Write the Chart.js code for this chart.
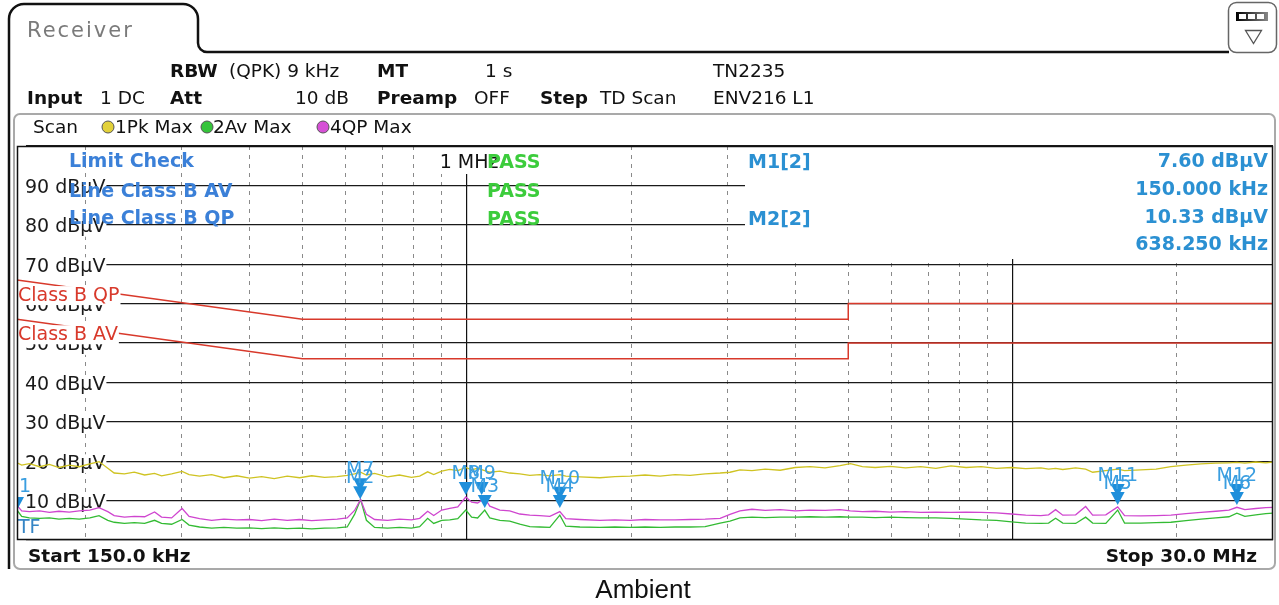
<!DOCTYPE html>
<html><head><meta charset="utf-8">
<script src="https://cdn.jsdelivr.net/npm/chart.js@4.4.1/dist/chart.umd.min.js"></script>
<style>
html,body{margin:0;padding:0;background:#fff;width:1279px;height:605px;overflow:hidden}
canvas{display:block}
</style></head>
<body>
<canvas id="c" width="1279" height="605"></canvas>
<script>
// ---- data (frequency in MHz, level in dBµV) ----
const freqMHz = [0.150,0.153,0.158,0.165,0.172,0.179,0.187,0.195,0.204,0.212,0.220,0.226,0.236,0.246,0.257,0.268,0.276,0.288,0.301,0.310,0.324,0.341,0.359,0.379,0.400,0.421,0.444,0.469,0.494,0.520,0.549,0.579,0.604,0.623,0.639,0.655,0.678,0.716,0.753,0.792,0.820,0.848,0.870,0.900,0.931,0.963,0.996,1.021,1.047,1.079,1.102,1.150,1.199,1.251,1.305,1.361,1.420,1.481,1.519,1.612,1.754,1.868,1.991,2.122,2.261,2.409,2.566,2.734,2.912,3.036,3.166,3.331,3.522,3.751,3.996,4.256,4.534,4.829,5.044,5.307,5.603,5.974,6.367,6.787,7.235,7.71,8.22,8.76,9.34,9.96,10.57,11.27,11.64,11.99,12.36,13.05,13.61,14.02,14.82,15.58,16.04,17.17,18.32,19.50,20.78,22.14,23.58,24.91,25.76,26.64,27.90,29.10,30.0];
const pkMax = [19.6,19.0,19.4,18.6,19.2,18.4,19.0,18.6,19.3,19.9,18.2,17.0,16.8,17.2,16.5,16.9,16.3,16.8,17.4,16.6,16.2,16.6,15.8,16.3,15.7,16.1,15.6,16.2,15.8,16.3,15.9,16.1,16.4,16.8,17.2,16.5,16.9,16.0,16.5,15.9,16.2,17.3,16.6,17.5,17.9,17.6,18.4,17.8,18.2,17.6,17.2,17.5,17.0,16.8,16.4,16.6,16.3,16.6,16.2,16.0,15.8,16.1,16.2,16.5,16.2,16.6,16.4,16.8,17.0,17.2,17.8,17.6,18.0,17.7,18.4,18.6,18.3,18.9,19.4,18.6,18.4,18.7,18.3,18.6,18.2,18.8,18.4,18.6,18.2,18.4,18.1,18.3,18.0,18.2,17.9,18.3,18.0,17.2,17.6,18.0,17.6,17.8,18.0,18.6,19.0,19.3,19.5,19.6,19.7,19.5,19.8,19.6,19.8];
const qpMax = [8.8,7.4,7.2,7.4,7.0,7.3,7.1,7.4,7.6,8.2,7.2,6.2,5.8,6.0,5.9,7.1,5.8,5.6,8.0,6.0,5.4,5.0,5.3,5.1,5.2,4.9,5.3,5.0,5.2,4.9,5.1,5.3,5.6,7.5,10.3,6.5,5.2,5.0,5.3,5.1,5.5,7.3,6.2,7.6,8.0,8.4,10.9,9.6,9.4,10.6,8.6,7.6,7.4,6.6,6.3,6.2,6.0,7.2,5.4,5.2,5.0,5.1,5.0,5.2,5.1,5.1,5.2,5.3,5.5,6.5,7.4,7.8,7.5,7.7,7.4,7.6,7.5,7.7,7.4,7.2,7.3,7.1,7.2,7.0,7.1,7.0,7.1,7.0,6.9,6.6,6.3,6.2,6.4,7.7,6.3,6.4,8.5,6.3,6.4,8.4,6.2,6.1,6.2,6.3,6.7,7.0,7.3,7.6,8.3,7.7,8.0,8.2,8.3];
const avMax = [7.6,6.0,5.6,5.5,5.6,5.3,5.5,5.3,5.6,6.2,5.0,4.5,4.2,4.4,4.2,5.0,4.2,4.0,5.2,3.8,3.3,3.0,3.2,3.0,3.1,2.9,3.1,2.9,3.0,2.8,3.0,3.1,3.3,6.5,10.3,5.0,3.2,3.0,3.2,3.0,3.4,5.5,4.2,5.0,5.1,5.4,7.6,5.8,5.6,7.6,5.6,5.0,4.8,4.0,3.4,3.3,3.2,6.3,3.5,3.3,3.2,3.3,3.2,3.3,3.2,3.3,3.3,3.4,4.3,4.8,5.6,5.8,5.7,5.8,5.8,5.9,5.8,5.9,5.8,5.8,5.7,5.8,5.7,5.6,5.6,5.5,5.3,5.1,5.0,4.6,4.3,4.2,4.3,5.5,4.3,4.2,5.8,4.3,4.2,7.6,4.3,4.3,4.4,4.5,4.9,5.3,5.6,5.9,6.8,6.0,6.4,6.7,6.8];

const qpLimitFreq  = [0.15, 0.5, 5, 5, 30];
const qpLimitLevel = [66, 56, 56, 60, 60];
const avLimitFreq  = [0.15, 0.5, 5, 5, 30];
const avLimitLevel = [56, 46, 46, 50, 50];

const yTickValues = [0,10,20,30,40,50,60,70,80,90,100];
const minorGridFreqs = [0.2,0.3,0.4,0.5,0.6,0.7,0.8,0.9,2,3,4,5,6,7,8,9,20];
const majorGridFreqs = [1,10];

const markerNames  = ['1','M7','M2','M8','M9','M3','M10','M4','M11','M5','M12','M6'];
const markerFreqs  = [0.150,0.638,0.638,0.996,1.065,1.079,1.481,1.481,15.58,15.58,25.76,25.76];
const markerLevels = [7.6,12.4,10.33,11.4,11.4,8.1,10.2,8.1,10.9,8.9,10.9,8.9];

// ---- helpers ----
const FONT = '"DejaVu Sans"';
function txt(ctx, s, x, y, font, color, align) {
  ctx.font = font; ctx.fillStyle = color; ctx.textAlign = align || 'left';
  ctx.textBaseline = 'alphabetic'; ctx.fillText(s, x, y);
}
function limitAt(fs, ls, f) {
  for (let i = 0; i < fs.length - 1; i++) {
    if (f >= fs[i] && f <= fs[i+1] && fs[i+1] > fs[i]) {
      const t = (Math.log(f) - Math.log(fs[i])) / (Math.log(fs[i+1]) - Math.log(fs[i]));
      return ls[i] + t * (ls[i+1] - ls[i]);
    }
  }
  return ls[ls.length - 1];
}
const toXY = (fs, vs) => fs.map((f, i) => ({x: f, y: vs[i]}));

const rsPlugin = {
  id: 'rs',
  beforeDraw(chart) {
    const ctx = chart.ctx;
    ctx.save();
    ctx.fillStyle = '#fff'; ctx.fillRect(0, 0, chart.width, chart.height);
    // tab frame
    ctx.strokeStyle = '#111'; ctx.lineWidth = 2.5;
    ctx.beginPath();
    ctx.moveTo(9, 569); ctx.lineTo(9, 20);
    ctx.arcTo(9, 4, 25, 4, 15);
    ctx.lineTo(183, 4);
    ctx.arcTo(198, 4, 198, 19, 15);
    ctx.lineTo(198, 43);
    ctx.arcTo(198, 52, 208, 52, 9);
    ctx.lineTo(1229, 52);
    ctx.stroke();
    // icon
    ctx.lineWidth = 1.5; ctx.strokeStyle = '#666';
    ctx.beginPath(); ctx.roundRect(1228.5, 2.5, 48, 50, 8); ctx.stroke();
    const g = ctx.createLinearGradient(1236, 0, 1268, 0);
    g.addColorStop(0, '#000'); g.addColorStop(1, '#888');
    ctx.fillStyle = g; ctx.fillRect(1236, 12, 32, 9);
    ctx.fillStyle = '#fff';
    ctx.fillRect(1239, 14, 7, 5); ctx.fillRect(1248, 14, 7, 5); ctx.fillRect(1257, 14, 7, 5);
    ctx.strokeStyle = '#555'; ctx.lineWidth = 1.3;
    ctx.beginPath(); ctx.moveTo(1245.5, 30.5); ctx.lineTo(1261.5, 30.5); ctx.lineTo(1253.5, 43.5); ctx.closePath(); ctx.stroke();
    // inner panel
    ctx.strokeStyle = '#a9a9a9'; ctx.lineWidth = 2;
    ctx.beginPath(); ctx.roundRect(14, 114, 1261, 455, 6); ctx.stroke();
    // Receiver
    if ('letterSpacing' in ctx) ctx.letterSpacing = '2px';
    txt(ctx, 'Receiver', 27, 37, '21px ' + FONT, '#7a7a7a');
    if ('letterSpacing' in ctx) ctx.letterSpacing = '0px';
    // header rows
    const R = '18.5px ' + FONT, B = 'bold 18.5px ' + FONT, K = '#111';
    [['RBW',170,B],['(QPK) 9 kHz',229,R],['MT',377,B],['1 s',485,R],['TN2235',713,R]]
      .forEach(a => txt(ctx, a[0], a[1], 77, a[2], K));
    [['Input',27,B],['1 DC',100,R],['Att',170,B],['10 dB',295,R],['Preamp',377,B],['OFF',474,R],['Step',540,B],['TD Scan',600,R],['ENV216 L1',713,R]]
      .forEach(a => txt(ctx, a[0], a[1], 104, a[2], K));
    // scan legend
    txt(ctx, 'Scan', 33, 133, R, K);
    const leg = [[108,'#e2d13a','1Pk Max',115],[207,'#35c43a','2Av Max',213],[323,'#d650d6','4QP Max',330]];
    leg.forEach(l => {
      ctx.beginPath(); ctx.arc(l[0], 127, 6, 0, Math.PI*2);
      ctx.fillStyle = l[1]; ctx.fill(); ctx.strokeStyle = '#555'; ctx.lineWidth = 1; ctx.stroke();
      txt(ctx, l[2], l[3], 133, R, K);
    });
    // start / stop
    txt(ctx, 'Start 150.0 kHz', 28, 562, B, K);
    txt(ctx, 'Stop 30.0 MHz', 1257, 562, B, K, 'right');
    // caption
    txt(ctx, 'Ambient', 643, 598, '26px "Liberation Sans"', '#111', 'center');
    ctx.restore();
  },
  beforeDatasetsDraw(chart) {
    const ctx = chart.ctx, a = chart.chartArea;
    ctx.save();
    // marker info box (covers grid)
    ctx.fillStyle = '#fff';
    ctx.fillRect(745, a.top + 1, a.right - 746, 258 - a.top);
    // 1 MHz label
    const xs = chart.scales.x;
    const x1 = xs.getPixelForValue(1);
    ctx.fillRect(x1 - 30, a.top + 1, 58, 173 - a.top);
    txt(ctx, '1 MHz', x1 - 27, 168, '19px ' + FONT, '#111');
    ctx.restore();
  },
  afterDatasetsDraw(chart) {
    const ctx = chart.ctx, a = chart.chartArea;
    const xs = chart.scales.x, ys = chart.scales.y;
    ctx.save();
    // limit line labels
    const red = '#d8392b';
    [['Class B QP', qpLimitFreq, qpLimitLevel], ['Class B AV', avLimitFreq, avLimitLevel]].forEach(l => {
      ctx.font = '19px ' + FONT;
      const w = ctx.measureText(l[0]).width;
      const xe = a.left + 1 + w;
      const v = limitAt(l[1], l[2], xs.getValueForPixel(xe));
      const base = ys.getPixelForValue(v) + 7;
      ctx.fillStyle = '#fff';
      ctx.fillRect(a.left + 1, base - 15, w + 1, 19);
      txt(ctx, l[0], a.left + 1, base, '19px ' + FONT, red);
    });
    // limit check texts
    const blue = '#3b80d8', green = '#3ccc3c';
    const BB = 'bold 19px ' + FONT;
    txt(ctx, 'Limit Check', 69, 167, BB, blue);
    txt(ctx, 'Line Class B AV', 69, 197, BB, blue);
    txt(ctx, 'Line Class B QP', 69, 224, BB, blue);
    txt(ctx, 'PASS', 487, 168, BB, green);
    txt(ctx, 'PASS', 487, 197, BB, green);
    txt(ctx, 'PASS', 487, 225, BB, green);
    // marker info
    const mb = '#2b90d2';
    txt(ctx, 'M1[2]', 748, 168, BB, mb);
    txt(ctx, 'M2[2]', 748, 225, BB, mb);
    txt(ctx, '7.60 dBµV', 1268, 167, BB, mb, 'right');
    txt(ctx, '150.000 kHz', 1268, 195, BB, mb, 'right');
    txt(ctx, '10.33 dBµV', 1268, 223, BB, mb, 'right');
    txt(ctx, '638.250 kHz', 1268, 250, BB, mb, 'right');
    // markers
    ctx.save();
    ctx.beginPath(); ctx.rect(a.left, a.top, a.right - a.left, a.bottom - a.top); ctx.clip();
    ctx.fillStyle = '#1f8fdb';
    markerNames.forEach((n, i) => {
      const px = xs.getPixelForValue(markerFreqs[i]);
      const py = ys.getPixelForValue(markerLevels[i]);
      ctx.beginPath(); ctx.moveTo(px - 7, py - 13); ctx.lineTo(px + 7, py - 13); ctx.lineTo(px, py); ctx.closePath(); ctx.fill();
    });
    ctx.restore();
    markerNames.forEach((n, i) => {
      const px = xs.getPixelForValue(markerFreqs[i]);
      const py = ys.getPixelForValue(markerLevels[i]);
      ctx.font = '19px ' + FONT;
      const w = ctx.measureText(n).width;
      if (px - w / 2 < a.left) txt(ctx, n, a.left + 2, py - 18, '19px ' + FONT, '#3a9ee0');
      else txt(ctx, n, px, py - 16, '19px ' + FONT, '#3a9ee0', 'center');
    });
    txt(ctx, 'TF', a.left + 1, 533, '19px ' + FONT, '#3585c5');
    ctx.restore();
  },
  afterDraw(chart) {
    const ctx = chart.ctx, a = chart.chartArea;
    ctx.save();
    ctx.strokeStyle = '#111'; ctx.lineWidth = 1.5;
    ctx.strokeRect(a.left + 0.5, a.top + 0.5, a.right - a.left - 1, a.bottom - a.top - 1);
    ctx.restore();
  }
};

Chart.defaults.font.family = 'DejaVu Sans';

new Chart(document.getElementById('c'), {
  type: 'line',
  data: {
    datasets: [
      {label: 'Class B QP', data: toXY(qpLimitFreq, qpLimitLevel), borderColor: '#d8392b', borderWidth: 1.5, pointRadius: 0},
      {label: 'Class B AV', data: toXY(avLimitFreq, avLimitLevel), borderColor: '#d8392b', borderWidth: 1.5, pointRadius: 0},
      {label: '4QP Max', data: toXY(freqMHz, qpMax), borderColor: '#cf45cf', borderWidth: 1.3, pointRadius: 0},
      {label: '2Av Max', data: toXY(freqMHz, avMax), borderColor: '#33bb33', borderWidth: 1.3, pointRadius: 0},
      {label: '1Pk Max', data: toXY(freqMHz, pkMax), borderColor: '#cfc322', borderWidth: 1.3, pointRadius: 0}
    ]
  },
  options: {
    responsive: false,
    animation: false,
    parsing: true,
    layout: {padding: {left: 1, top: 146, right: 6, bottom: 65}},
    plugins: {legend: {display: false}, tooltip: {enabled: false}},
    elements: {line: {tension: 0}},
    scales: {
      x: {
        type: 'logarithmic', position: 'bottom', min: 0.15, max: 30,
        afterBuildTicks: s => { s.ticks = minorGridFreqs.map(v => ({value: v})); },
        ticks: {display: false},
        grid: {color: '#8a8a8a', lineWidth: 1, drawTicks: false},
        border: {display: false, dash: [4, 5]}
      },
      x2: {
        type: 'logarithmic', position: 'top', min: 0.15, max: 30,
        afterBuildTicks: s => { s.ticks = majorGridFreqs.map(v => ({value: v})); },
        ticks: {display: false},
        grid: {color: '#111', lineWidth: 1.2, drawTicks: false},
        border: {display: false}
      },
      y: {
        type: 'linear', position: 'left', min: 0, max: 100,
        afterBuildTicks: s => { s.ticks = yTickValues.map(v => ({value: v})); },
        grid: {color: '#1a1a1a', lineWidth: 1.2, drawTicks: false},
        border: {display: false},
        ticks: {
          mirror: true, padding: 8, labelOffset: 2.5, color: '#1a1a1a',
          font: {family: 'DejaVu Sans', size: 19},
          callback: v => (v > 0 && v < 100) ? v + ' dBµV' : '',
          showLabelBackdrop: true, backdropColor: '#ffffff',
          backdropPadding: {left: 8, right: 1, top: -2, bottom: -2}
        }
      }
    }
  },
  plugins: [rsPlugin]
});
</script>
</body></html>
